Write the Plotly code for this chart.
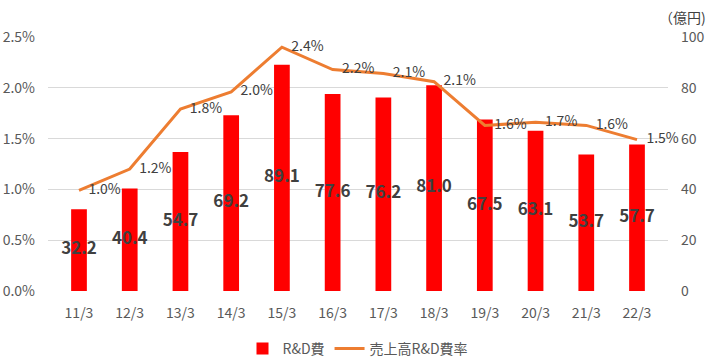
import plotly.graph_objects as go

categories = ["11/3", "12/3", "13/3", "14/3", "15/3", "16/3", "17/3", "18/3", "19/3", "20/3", "21/3", "22/3"]
rd_cost = [32.2, 40.4, 54.7, 69.2, 89.1, 77.6, 76.2, 81.0, 67.5, 63.1, 53.7, 57.7]
rd_ratio = [0.99, 1.20, 1.79, 1.96, 2.40, 2.18, 2.14, 2.06, 1.63, 1.66, 1.63, 1.49]
left_ticks = [0, 0.5, 1.0, 1.5, 2.0, 2.5]
right_ticks = [0, 20, 40, 60, 80, 100]

FONT = "Noto Sans CJK JP, Noto Sans, sans-serif"
GRAY = "#595959"
DARK = "#404040"

fig = go.Figure()

fig.add_trace(go.Bar(
    x=categories, y=rd_cost, name="R&D費",
    marker=dict(color="#FF0000", line=dict(width=0)),
    width=0.31, yaxis="y",
))
fig.add_trace(go.Scatter(
    x=categories, y=[v / 2 for v in rd_cost], mode="text",
    text=[f"{v:.1f}" for v in rd_cost],
    textfont=dict(family=FONT, size=17, color=DARK, weight="bold"),
    showlegend=False, hoverinfo="skip", yaxis="y", cliponaxis=False,
))
fig.add_trace(go.Scatter(
    x=categories, y=rd_ratio, name="売上高R&D費率",
    mode="lines+text", line=dict(color="#ED7D31", width=3),
    text=[f"   {v:.1f}%" for v in rd_ratio], textposition="middle right",
    textfont=dict(family=FONT, size=14, color=DARK),
    yaxis="y2", cliponaxis=False,
))

fig.update_layout(
    width=718, height=358,
    margin=dict(l=48, r=50, t=37, b=67, autoexpand=False),
    paper_bgcolor="white", plot_bgcolor="white",
    font=dict(family=FONT, size=14, color=GRAY),
    xaxis=dict(showgrid=False, showline=False, ticks="", ticklabelstandoff=12,
               automargin=False, tickfont=dict(size=14, color=GRAY)),
    yaxis=dict(side="right", range=[0, 100], tickvals=right_ticks, showgrid=True,
               gridcolor="#D9D9D9", gridwidth=1, zeroline=False, automargin=False,
               showline=False, tickfont=dict(size=14, color=GRAY), ticklabelstandoff=12),
    yaxis2=dict(side="left", overlaying="y", range=[0, 2.5], tickvals=left_ticks,
                ticktext=[f"{v:.1f}%" for v in left_ticks], showgrid=False, zeroline=False,
                automargin=False, tickfont=dict(size=14, color=GRAY), ticklabelstandoff=12),
    legend=dict(orientation="h", x=0.5, xanchor="center", y=-0.165, yanchor="top",
                font=dict(size=14, color=GRAY), traceorder="normal"),
    annotations=[dict(text="（億円)", x=1.0, xref="paper", xanchor="right", xshift=40,
                      y=1.0, yref="paper", yanchor="bottom", yshift=8, showarrow=False,
                      font=dict(size=14, color=DARK))],
)

fig.write_html("out.html", config={"displayModeBar": False},
               post_script="document.body.style.margin='0';")
